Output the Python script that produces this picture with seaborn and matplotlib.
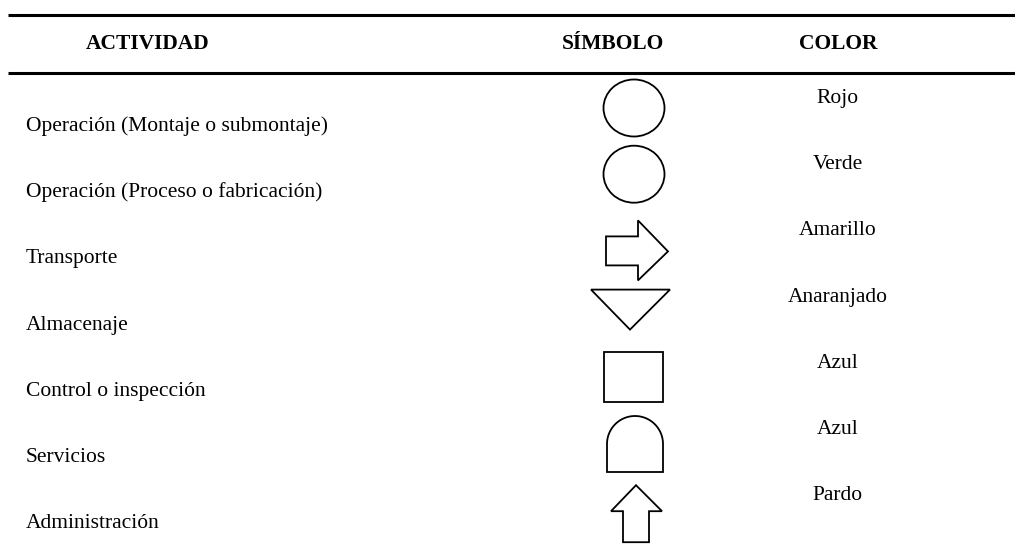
import numpy as np
import matplotlib
matplotlib.use("Agg")
import matplotlib.pyplot as plt
import seaborn as sns
from matplotlib.patches import Ellipse, Polygon, Rectangle

# ---- data ----
encabezados = ["ACTIVIDAD", "SÍMBOLO", "COLOR"]
actividades = [
    "Operación (Montaje o submontaje)",
    "Operación (Proceso o fabricación)",
    "Transporte",
    "Almacenaje",
    "Control o inspección",
    "Servicios",
    "Administración",
]
simbolos = ["circulo", "circulo", "flecha_der", "triangulo", "cuadrado", "cupula", "flecha_arriba"]
colores = ["Rojo", "Verde", "Amarillo", "Anaranjado", "Azul", "Azul", "Pardo"]

sns.set_theme(style="white")
plt.rcParams["font.family"] = ["Liberation Serif", "DejaVu Serif"]
plt.rcParams["text.color"] = "black"

W, H = 1015, 552
fig = plt.figure(figsize=(W / 100, H / 100), dpi=100)
ax = fig.add_axes([0, 0, 1, 1])
ax.set_xlim(0, W)
ax.set_ylim(H, 0)
ax.axis("off")

FS = 15.5
LW = 1.3

# rules
ax.plot([8, W], [15, 15], color="black", lw=2.2, solid_capstyle="butt")
ax.plot([8, W], [73, 73], color="black", lw=2.2, solid_capstyle="butt")

# header
hx = [148, 613, 838]
for x, t in zip(hx, encabezados):
    ax.text(x, 44, t, ha="center", va="center", fontsize=FS, fontweight="bold", color="black")

# rows
row0, step = 124, 66.2
sym_x = 634


def draw_symbol(kind, cy):
    kw = dict(fill=False, edgecolor="black", lw=LW, joinstyle="miter")
    if kind == "circulo":
        ax.add_patch(Ellipse((sym_x, cy - 16), 61, 57, fill=False, edgecolor="black", lw=LW))
    elif kind == "flecha_der":
        x0, y0 = sym_x - 28, cy - 5
        pts = [(x0, y0 - 15), (x0 + 32, y0 - 15), (x0 + 32, y0 - 31), (x0 + 62, y0),
               (x0 + 32, y0 + 29), (x0 + 32, y0 + 14), (x0, y0 + 14)]
        ax.add_patch(Polygon(pts, closed=True, **kw))
    elif kind == "triangulo":
        pts = [(sym_x - 43, cy - 33), (sym_x + 36, cy - 33), (sym_x - 4, cy + 7)]
        ax.add_patch(Polygon(pts, closed=True, **kw))
    elif kind == "cuadrado":
        ax.add_patch(Rectangle((sym_x - 30, cy - 37), 59, 50, **kw))
    elif kind == "cupula":
        cx, r = sym_x + 1, 28
        base = cy + 17
        top_c = cy - 11
        ang = np.linspace(np.pi, 0, 60)
        pts = [(cx - r, base), (cx - r, top_c)]
        pts += list(zip(cx + r * np.cos(ang), top_c - r * np.sin(ang)))
        pts += [(cx + r, base)]
        ax.add_patch(Polygon(pts, closed=True, **kw))
    elif kind == "flecha_arriba":
        cx = sym_x + 2
        pts = [(cx, cy - 36), (cx + 26, cy - 10), (cx + 13, cy - 10), (cx + 13, cy + 21),
               (cx - 13, cy + 21), (cx - 13, cy - 10), (cx - 25, cy - 10)]
        ax.add_patch(Polygon(pts, closed=True, **kw))


for i, (act, sym, col) in enumerate(zip(actividades, simbolos, colores)):
    cy = row0 + i * step
    ax.text(26, cy + 7, act, ha="left", va="baseline", fontsize=FS, color="black")
    ax.text(838, cy - 28 + 7, col, ha="center", va="baseline", fontsize=FS, color="black")
    draw_symbol(sym, cy)

fig.savefig("out.png", dpi=100, facecolor="white")
